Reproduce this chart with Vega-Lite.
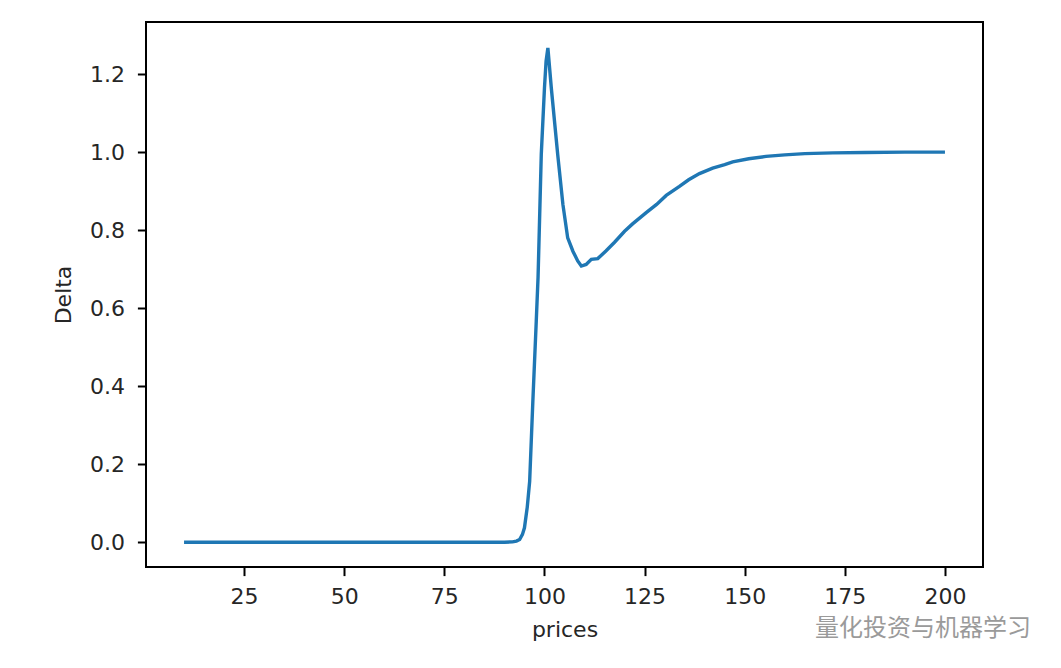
{
  "$schema": "https://vega.github.io/schema/vega-lite/v6.json",
  "width": 837,
  "height": 545,
  "autosize": {"type": "none"},
  "padding": {"left": 146, "top": 22, "right": 78, "bottom": 101},
  "background": "white",
  "data": {
    "values": [
      {"prices": 10, "delta": 0},
      {"prices": 30, "delta": 0},
      {"prices": 50, "delta": 0},
      {"prices": 70, "delta": 0},
      {"prices": 90, "delta": 0},
      {"prices": 92, "delta": 0.001},
      {"prices": 93, "delta": 0.003},
      {"prices": 93.8, "delta": 0.007},
      {"prices": 94.5, "delta": 0.02},
      {"prices": 95.0, "delta": 0.037},
      {"prices": 95.7, "delta": 0.09},
      {"prices": 96.3, "delta": 0.156},
      {"prices": 97.1, "delta": 0.362},
      {"prices": 97.95, "delta": 0.567},
      {"prices": 98.4, "delta": 0.68},
      {"prices": 99.2, "delta": 0.994},
      {"prices": 100.0, "delta": 1.165},
      {"prices": 100.4, "delta": 1.233},
      {"prices": 100.85, "delta": 1.267},
      {"prices": 101.7, "delta": 1.165},
      {"prices": 103.3, "delta": 0.994},
      {"prices": 104.6, "delta": 0.866},
      {"prices": 105.8, "delta": 0.78},
      {"prices": 107.1, "delta": 0.746},
      {"prices": 108.3, "delta": 0.721},
      {"prices": 109.2, "delta": 0.708},
      {"prices": 110.4, "delta": 0.712},
      {"prices": 111.7, "delta": 0.725},
      {"prices": 113.3, "delta": 0.727},
      {"prices": 115.4, "delta": 0.747},
      {"prices": 117.5, "delta": 0.769},
      {"prices": 120, "delta": 0.797},
      {"prices": 122, "delta": 0.816},
      {"prices": 125.4, "delta": 0.845},
      {"prices": 128, "delta": 0.866},
      {"prices": 130.4, "delta": 0.889},
      {"prices": 133.7, "delta": 0.912},
      {"prices": 136, "delta": 0.929},
      {"prices": 138.7, "delta": 0.945},
      {"prices": 142, "delta": 0.959},
      {"prices": 145, "delta": 0.968},
      {"prices": 147, "delta": 0.975},
      {"prices": 151, "delta": 0.983},
      {"prices": 155.3, "delta": 0.989},
      {"prices": 160, "delta": 0.993},
      {"prices": 165, "delta": 0.996},
      {"prices": 172, "delta": 0.998},
      {"prices": 180, "delta": 0.999},
      {"prices": 190, "delta": 1.0},
      {"prices": 200, "delta": 1.0}
    ]
  },
  "title": {
    "text": "量化投资与机器学习",
    "orient": "bottom",
    "anchor": "end",
    "font": "Noto Sans CJK SC",
    "fontSize": 24,
    "fontWeight": "normal",
    "color": "#9a9a9a",
    "dx": 48,
    "offset": -24
  },
  "mark": {"type": "line", "color": "#1f77b4", "strokeWidth": 3.4, "clip": true},
  "encoding": {
    "x": {
      "field": "prices",
      "type": "quantitative",
      "scale": {"domain": [0.5, 209.5], "nice": false, "zero": false},
      "axis": {"values": [25, 50, 75, 100, 125, 150, 175, 200], "title": "prices", "titlePadding": 12, "labelPadding": 11}
    },
    "y": {
      "field": "delta",
      "type": "quantitative",
      "scale": {"domain": [-0.0635, 1.3335], "nice": false, "zero": false},
      "axis": {"values": [0, 0.2, 0.4, 0.6, 0.8, 1.0, 1.2], "format": ".1f", "title": "Delta", "titlePadding": 14, "labelPadding": 13}
    }
  },
  "config": {
    "view": {"stroke": "#000000", "strokeWidth": 2},
    "axis": {
      "domain": false,
      "grid": false,
      "ticks": true,
      "tickColor": "#000000",
      "tickWidth": 2,
      "tickSize": 8.6,
      "labelFont": "DejaVu Sans",
      "labelFontSize": 22,
      "labelColor": "#262626",
      "titleFont": "DejaVu Sans",
      "titleFontSize": 22,
      "titleFontWeight": "normal",
      "titleColor": "#262626"
    }
  }
}
